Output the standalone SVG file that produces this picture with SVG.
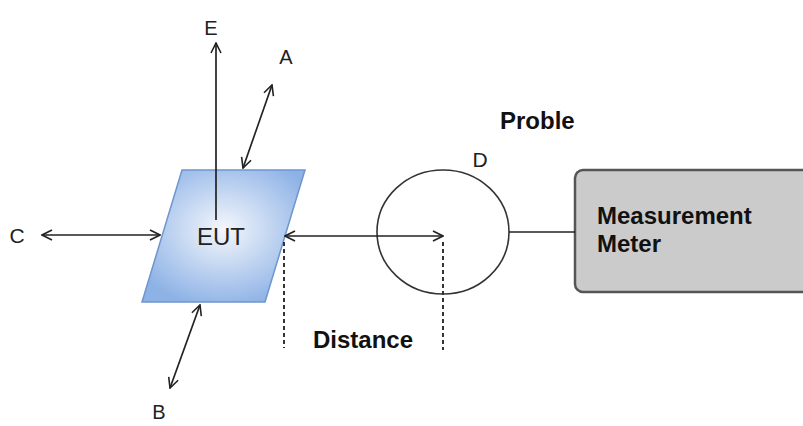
<svg xmlns="http://www.w3.org/2000/svg" width="803" height="426" viewBox="0 0 803 426">
<style>
.lbl{font-family:"Liberation Sans",Arial,sans-serif;font-size:20px;fill:#222}
.bold{font-family:"Liberation Sans",Arial,sans-serif;font-size:24px;font-weight:bold;fill:#111}
.ln{stroke:#222;stroke-width:1.7;fill:none}
.dash{stroke:#333;stroke-width:2;stroke-dasharray:4,3;fill:none}
</style>
<defs>
<marker id="ah" viewBox="0 0 12 12" refX="11" refY="6" markerWidth="12" markerHeight="12" markerUnits="userSpaceOnUse" orient="auto-start-reverse">
<path d="M1,1 L11,6 L1,11" fill="none" stroke="#222" stroke-width="1.6"/>
</marker>
<radialGradient id="g" cx="0.5" cy="0.45" r="0.6">
<stop offset="0" stop-color="#f4f7fc"/>
<stop offset="1" stop-color="#8db2e6"/>
</radialGradient>
</defs>
<g id="eut">
<polygon points="182,170 305,170 265,302 142,302" fill="url(#g)" stroke="#6f95d0" stroke-width="1.5"/>
<text class="lbl" x="221" y="245" text-anchor="middle" style="font-size:24px">EUT</text>
</g>
<g id="probe">
<ellipse cx="443" cy="232" rx="66" ry="62" fill="none" stroke="#333" stroke-width="1.6"/>
<text class="lbl" x="480" y="167" text-anchor="middle" style="font-size:21px">D</text>
<text class="bold" x="500" y="129">Proble</text>
</g>
<g id="meter">
<rect x="575" y="170" width="240" height="122" rx="8" fill="#cbcbcb" stroke="#555" stroke-width="2.5"/>
<text class="bold" x="597" y="224">Measurement</text>
<text class="bold" x="597" y="252">Meter</text>
</g>
<g id="labels">
<text class="lbl" x="211" y="35" text-anchor="middle">E</text>
<text class="lbl" x="286" y="64" text-anchor="middle">A</text>
<text class="lbl" x="17" y="243" text-anchor="middle" style="font-size:21px">C</text>
<text class="lbl" x="159" y="419" text-anchor="middle" style="font-size:20px">B</text>
<text class="bold" x="313" y="348">Distance</text>
</g>
<g id="connectors">
<line class="ln" x1="216" y1="220" x2="216" y2="43" marker-end="url(#ah)"/>
<line class="ln" x1="243" y1="168" x2="272" y2="85" marker-start="url(#ah)" marker-end="url(#ah)"/>
<line class="ln" x1="42" y1="235" x2="160" y2="235" marker-start="url(#ah)" marker-end="url(#ah)"/>
<line class="ln" x1="200" y1="305" x2="170" y2="388" marker-start="url(#ah)" marker-end="url(#ah)"/>
<line class="ln" x1="285" y1="236" x2="443" y2="236" marker-start="url(#ah)" marker-end="url(#ah)"/>
<line class="ln" x1="509" y1="232" x2="575" y2="232"/>
<line class="dash" x1="284" y1="242" x2="284" y2="348"/>
<line class="dash" x1="443" y1="242" x2="443" y2="350"/>
</g>
</svg>
